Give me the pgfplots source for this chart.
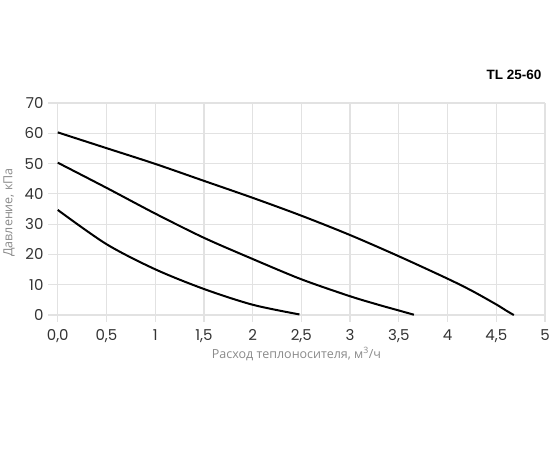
\documentclass[border=0pt]{standalone}
\usepackage{fontspec}
\setmainfont{Poppins}
\newfontfamily\cyr{Open Sans}
\newfontfamily\titlefont{Liberation Sans}
\usepackage{pgfplots}
\pgfplotsset{compat=1.18}
\definecolor{gridc}{HTML}{E2E2E2}
\definecolor{tickc}{HTML}{333333}
\definecolor{labc}{HTML}{8A8A8A}
\begin{document}
\begin{tikzpicture}[x=1pt,y=1pt]
\path[use as bounding box] (0,0) rectangle (550,450);
\node[anchor=east,font=\titlefont\bfseries\fontsize{13.5}{14}\selectfont] at (545,375) {TL 25-60};
\begin{axis}[
  at={(48pt,128pt)}, anchor=south west,
  scale only axis, width=497pt, height=219pt,
  xmin=-0.1, xmax=5, ymin=-2.3, ymax=70,
  axis line style={draw=none},
  major tick length=0pt,
  grid=major, grid style={gridc, line width=1.2pt},
  xtick={0,0.5,1,1.5,2,2.5,3,3.5,4,4.5,5},
  xticklabels={{0,0},{0,5},1,{1,5},2,{2,5},3,{3,5},4,{4,5},5},
  ytick={0,10,20,30,40,50,60,70},
  tick label style={font=\fontsize{15}{16}\selectfont, text=tickc},
  /pgf/number format/assume math mode=true,
  xticklabel style={yshift=-4pt},
  yticklabel style={xshift=-1pt},
  xlabel={\cyr Расход теплоносителя, м\textsuperscript{3}/ч},
  ylabel={\cyr Давление, кПа},
  label style={font=\fontsize{12.5}{13}\selectfont, text=labc},
  xlabel style={yshift=2pt},
  ylabel style={yshift=3pt},
  clip=false,
]
\addplot[black, line width=2pt, smooth, tension=0.5] coordinates {
(0,60.3) (0.5,55.1) (1,49.9) (1.5,44.3) (2,38.7) (2.5,32.8) (3,26.4) (3.5,19.4) (4,12.0) (4.25,8.0) (4.5,3.5) (4.6,1.5) (4.68,0)};
\addplot[black, line width=2pt, smooth, tension=0.5] coordinates {
(0,50.3) (0.5,42) (1,33.5) (1.5,25.5) (2,18.5) (2.5,11.8) (3,6.2) (3.3,3.3) (3.5,1.5) (3.655,0.1)};
\addplot[black, line width=2pt, smooth, tension=0.5] coordinates {
(0,34.7) (0.5,23.4) (1,15.1) (1.5,8.6) (2,3.4) (2.48,0.2)};
\end{axis}
\end{tikzpicture}
\end{document}
